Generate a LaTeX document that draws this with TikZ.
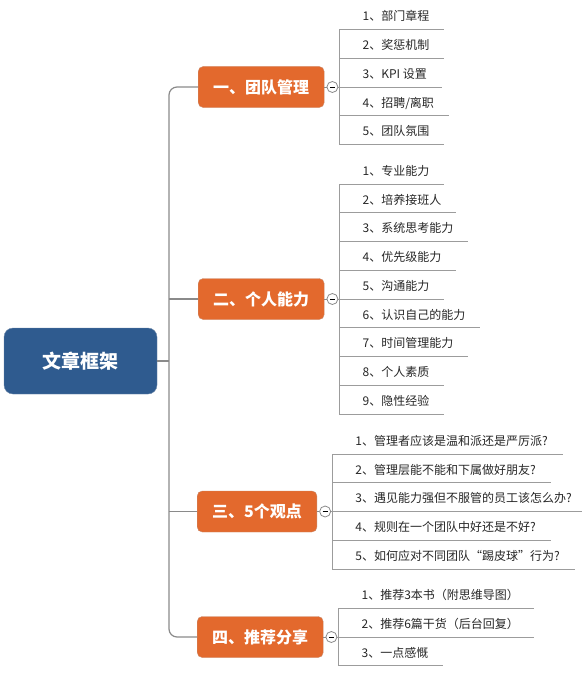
\documentclass[tikz,border=0pt]{standalone}
\usepackage{fontspec}
\newfontfamily\cjk{Noto Sans CJK SC}
\usepackage{xcolor}
\usetikzlibrary{positioning, calc}

\definecolor{orangebox}{HTML}{E3692D}
\definecolor{orangeedge}{HTML}{C9896A}
\definecolor{rootblue}{HTML}{2F5B8F}
\definecolor{rootedge}{HTML}{6C87A8}
\definecolor{linkgray}{HTML}{8A8A8A}
\definecolor{linegray}{HTML}{9C9C9C}

\begin{document}
\begin{tikzpicture}[x=1pt, y=-1pt,
        rootbox/.style={rectangle, rounded corners=9pt, fill=rootblue, draw=rootedge, text=white, font=\cjk\bfseries\fontsize{19}{22}\selectfont, minimum width=153pt, minimum height=66pt},
        topic/.style={rectangle, rounded corners=5pt, fill=orangebox, draw=orangeedge, text=white, font=\cjk\bfseries\fontsize{16}{18}\selectfont, inner xsep=15pt, minimum height=41pt, anchor=west},
        fold/.style={circle, draw=linkgray, fill=white, minimum size=11pt, inner sep=0pt, line width=0.8pt},
        item/.style={font=\cjk\fontsize{12}{14}\selectfont, text=black!85, inner xsep=15pt, inner ysep=6.5pt, text height=10pt, text depth=2pt, anchor=south west},
        link/.style={draw=linkgray, line width=1.2pt},
        uline/.style={draw=linegray, line width=0.9pt}
    ]
        \useasboundingbox (0,0) rectangle (581,677);

        % Root and trunk
        \node[rootbox] (root) at (80.5,361) {文章框架};
        \coordinate (trunk) at (169,361);

        % Topics
        \node[topic] (t1) at (198,87) {一、团队管理};
        \node[topic] (t2) at (198,299) {二、个人能力};
        \node[topic] (t3) at (197,511.5) {三、5个观点};
        \node[topic] (t4) at (197,637) {四、推荐分享};

        \draw[link] (root.east) -- (trunk);
        \draw[link, rounded corners=8pt] (t1.west) -- (t1.west -| trunk) -- (t4.west -| trunk) -- (t4.west);
        \draw[link] (t2.west -| trunk) -- (t2.west);
        \draw[link] (t3.west -| trunk) -- (t3.west);

        % Fold markers
        \foreach \t in {1,2,3,4} {
            \node[fold] (c\t) at ($(t\t.east)+(8,0)$) {\rule{5pt}{0.6pt}};
            \coordinate (v\t) at ($(c\t)+(7,0)$);
            \draw[link, line width=0.9pt] (t\t.east) -- (c\t.west);
            \draw[uline] (c\t.east) -- (v\t);
        }

        % Items of topic 1
        \foreach \txt [count=\i] in {1、部门章程, 2、奖惩机制, 3、KPI 设置, 4、招聘/离职, 5、团队氛围} {
            \node[item] (a\i) at ($(v1)+(8,{(\i-3)*28.75})$) {\txt};
            \draw[uline] (v1 |- a\i.south) -- (a\i.south east);
        }
        \draw[uline] (v1 |- a1.south) -- (v1 |- a5.south);

        % Items of topic 2
        \foreach \txt [count=\i] in {1、专业能力, 2、培养接班人, 3、系统思考能力, 4、优先级能力, 5、沟通能力, 6、认识自己的能力, 7、时间管理能力, 8、个人素质, 9、隐性经验} {
            \node[item] (b\i) at ($(v2)+(8,{(\i-5)*28.75})$) {\txt};
            \draw[uline] (v2 |- b\i.south) -- (b\i.south east);
        }
        \draw[uline] (v2 |- b1.south) -- (v2 |- b9.south);

        % Items of topic 3
        \foreach \txt [count=\i] in {1、管理者应该是温和派还是严厉派?, 2、管理层能不能和下属做好朋友?, 3、遇见能力强但不服管的员工该怎么办?, 4、规则在一个团队中好还是不好?, 5、如何应对不同团队“踢皮球”行为?} {
            \node[item] (d\i) at ($(v3)+(8,{(\i-3)*28.75})$) {\txt};
            \draw[uline] (v3 |- d\i.south) -- (d\i.south east);
        }
        \draw[uline] (v3 |- d1.south) -- (v3 |- d5.south);

        % Items of topic 4
        \foreach \txt [count=\i] in {1、推荐3本书（附思维导图）, 2、推荐6篇干货（后台回复）, 3、一点感慨} {
            \node[item] (e\i) at ($(v4)+(8,{(\i-2)*28.75})$) {\txt};
            \draw[uline] (v4 |- e\i.south) -- (e\i.south east);
        }
        \draw[uline] (v4 |- e1.south) -- (v4 |- e3.south);
    \end{tikzpicture}
\end{document}
